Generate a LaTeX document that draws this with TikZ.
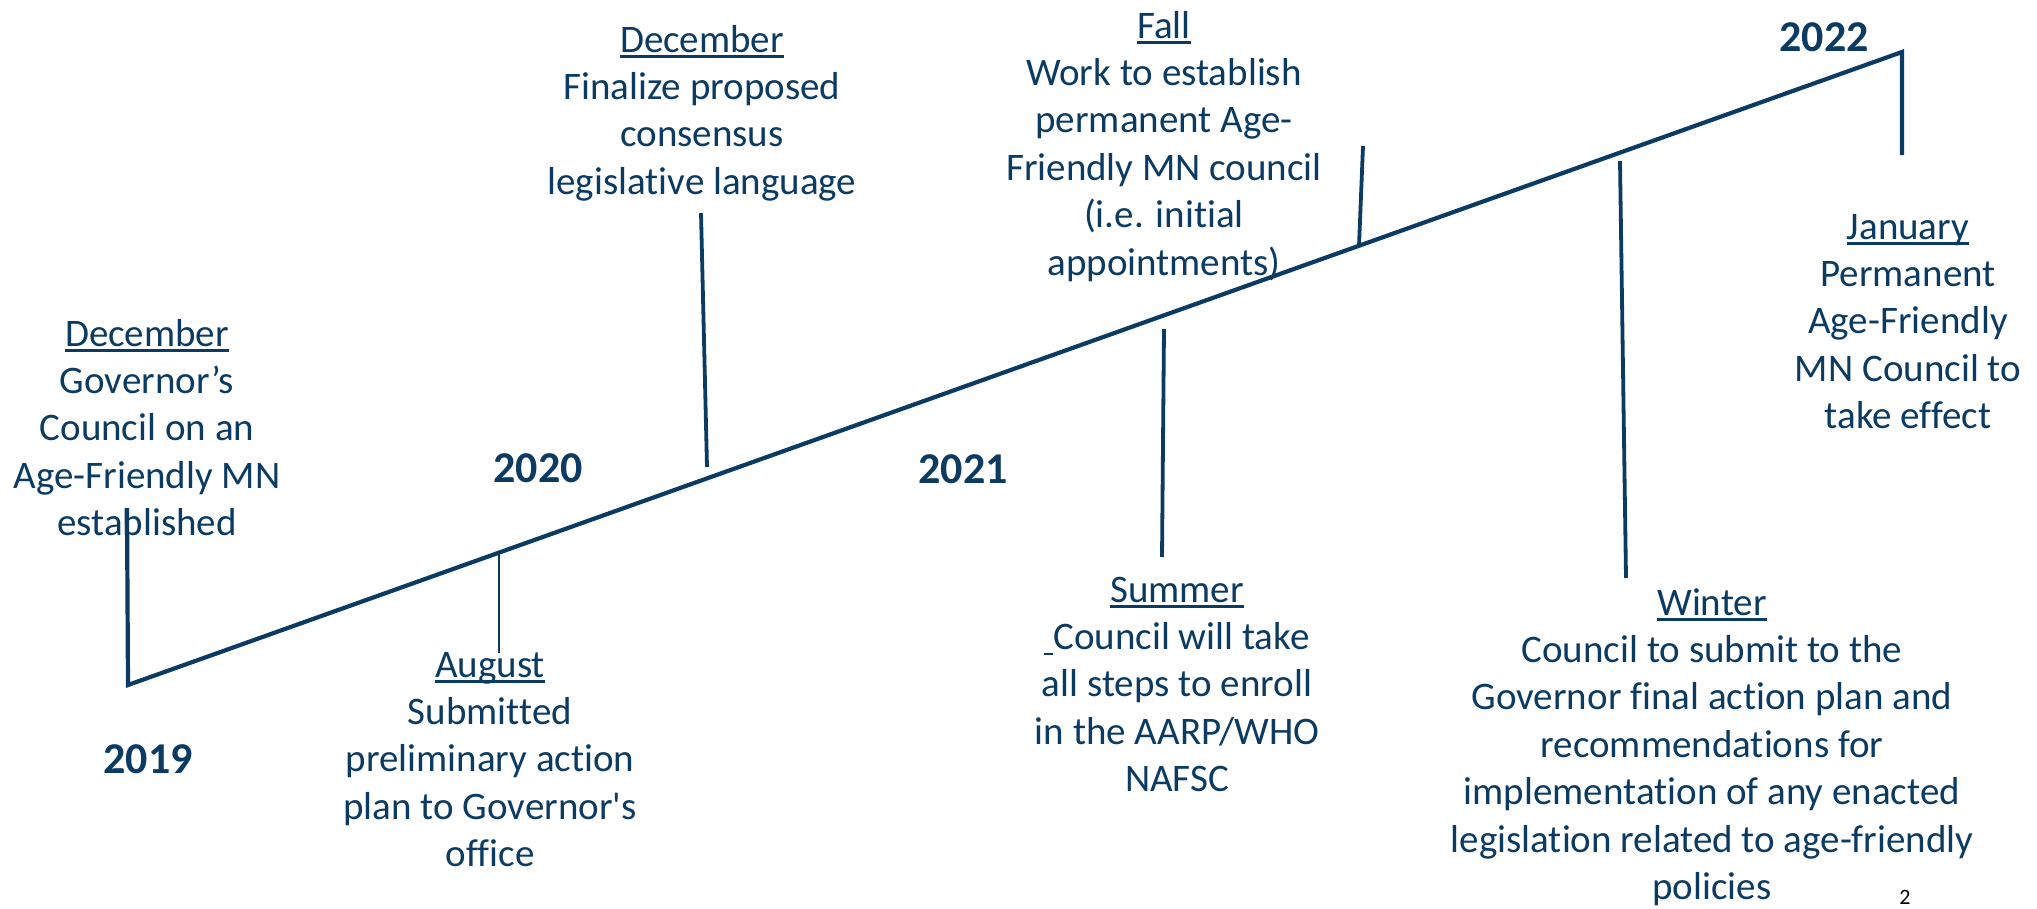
\documentclass[tikz,border=0pt]{standalone}
\usepackage{fontspec}
\setmainfont{Carlito}[Ligatures={NoCommon}]
\definecolor{tlnavy}{RGB}{11,58,99}
\newlength\ulw
\newcommand\ulx[1]{\settowidth\ulw{#1}\rlap{\rule[-5.5pt]{\ulw}{2.2pt}}#1}
\newcommand\blk[1]{\begin{tabular}[t]{@{}c@{}}#1\end{tabular}}
\begin{document}
\begin{tikzpicture}[x=1pt,y=-1pt,
  evt/.style={anchor=base,inner sep=0pt,text=tlnavy,font=\fontsize{39}{47.4}\selectfont},
  yr/.style={anchor=base,inner sep=0pt,text=tlnavy,font=\fontsize{44}{52}\selectfont\bfseries},
  axis/.style={draw=tlnavy,line width=4.2pt,line join=miter},
  tick/.style={draw=tlnavy,line width=3.8pt},
  thintick/.style={draw=tlnavy,line width=2.5pt}]
\useasboundingbox (0,0) rectangle (2037,908);
% axis
\coordinate (lt) at (127,508);
\coordinate (s) at (128,685);
\coordinate (e) at (1902,52);
\coordinate (rb) at (1902,155);
\draw[axis] (lt) -- (s) -- (e) -- (rb);
% ticks
\coordinate (aug1) at (499,553); \coordinate (aug2) at (499,653);
\draw[thintick] (aug1) -- (aug2);
\coordinate (dec1) at (701,213); \coordinate (dec2) at (707,467);
\draw[tick] (dec1) -- (dec2);
\coordinate (fal1) at (1363,146); \coordinate (fal2) at (1359,246);
\draw[tick] (fal1) -- (fal2);
\coordinate (sum1) at (1164,329); \coordinate (sum2) at (1162,557);
\draw[tick] (sum1) -- (sum2);
\coordinate (win1) at (1620,161); \coordinate (win2) at (1626,578);
\draw[tick] (win1) -- (win2);
% years
\node[yr] (y19) at (148,773) {2019};
\node[yr] (y20) at (538,482) {2020};
\node[yr] (y21) at (963,483) {2021};
\node[yr] (y22) at (1824,51) {2022};
% events
\node[evt] (decl) at (147,346) {\blk{\ulx{December}\\Governor’s\\Council on an\\Age-Friendly MN\\established}};
\node[evt] (aug) at (490,677) {\blk{\ulx{August}\\Submitted\\preliminary action\\plan to Governor\textquotesingle s\\office}};
\node[evt] (dec20) at (702,52) {\blk{\ulx{December}\\Finalize proposed\\consensus\\legislative language}};
\node[evt] (fall) at (1164,38) {\blk{\ulx{Fall}\\Work to establish\\permanent Age-\\Friendly MN council\\(i.e. initial\\appointments)}};
\node[evt] (summer) at (1177,602) {\blk{\ulx{Summer}\\\ulx{\ }Council will take\\all steps to enroll\\in the AARP/WHO\\NAFSC}};
\node[evt] (winter) at (1712,615) {\blk{\ulx{Winter}\\Council to submit to the\\Governor final action plan and\\recommendations for\\implementation of any enacted\\legislation related to age-friendly\\policies}};
\node[evt] (jan) at (1908,239) {\blk{\ulx{January}\\Permanent\\Age-Friendly\\MN Council to\\take effect}};
% page number
\node[anchor=base,inner sep=0pt,font=\fontsize{22}{26}\selectfont] (pg) at (1905,904) {2};
\end{tikzpicture}
\end{document}
